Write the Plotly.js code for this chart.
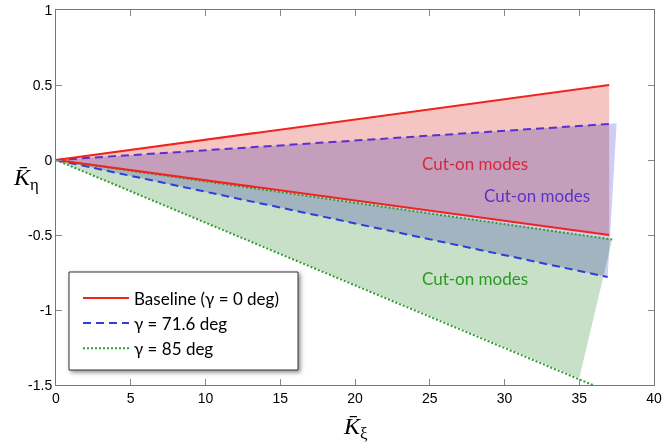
<!DOCTYPE html>
<html>
<head>
<meta charset="utf-8">
<script src="https://cdn.plot.ly/plotly-3.0.1.min.js"></script>
<style>
  html, body { margin: 0; padding: 0; background: #fff; }
  #chart { width: 665px; height: 448px; }
  .js-fill { mix-blend-mode: multiply; }
  .shapelayer path { filter: drop-shadow(2px 2px 2px rgba(0,0,0,0.45)); }
</style>
</head>
<body>
<div id="chart"></div>
<script>
// ---- data ----
const seriesNames = ['Baseline (γ = 0 deg)', 'γ = 71.6 deg', 'γ = 85 deg'];

// cut-on regions (polygons)
const baseFillX = [0, 37.0, 37.0, 0];
const baseFillY = [0, 0.50, -0.50, 0];
const g716FillX = [0, 37.0, 37.5, 36.9, 0];
const g716FillY = [0, 0.24, 0.245, -0.78, 0];
const g85FillX  = [0, 37.2, 35.0, 0];
const g85FillY  = [0, -0.53, -1.455, 0];

// boundary lines
const baseUpperX = [0, 37.0], baseUpperY = [0, 0.50];
const baseLowerX = [0, 37.0], baseLowerY = [0, -0.50];
const g716UpperX = [0, 37.0], g716UpperY = [0, 0.24];
const g716LowerX = [0, 36.9], g716LowerY = [0, -0.78];
const g85UpperX  = [0, 37.2], g85UpperY  = [0, -0.53];
const g85LowerX  = [0, 35.9], g85LowerY  = [0, -1.50];

// labels
const labelText = 'Cut-on modes';
const labelX = [28.0, 32.2, 28.0];
const labelY = [-0.02, -0.235, -0.79];

const xTicks = [0, 5, 10, 15, 20, 25, 30, 35, 40];
const yTicks = [1, 0.5, 0, -0.5, -1, -1.5];
const yTickText = ['1', '0.5', '0', '-0.5', '-1', '-1.5'];

// ---- styling ----
const red = '#f2221c', blue = '#2d3fd6', blueUp = '#5a30d2', green = '#2f9e2f';
const labelColors = ['#d8263c', '#5b32cc', '#2a9a22'];
const dashPat = '8px,5px', dotPat = '2px,2px';

const traces = [
  {x: baseFillX, y: baseFillY, mode: 'none', fill: 'toself', fillcolor: '#f5c5c3', showlegend: false, hoverinfo: 'skip'},
  {x: g716FillX, y: g716FillY, mode: 'none', fill: 'toself', fillcolor: '#cdcdf5', showlegend: false, hoverinfo: 'skip'},
  {x: g85FillX,  y: g85FillY,  mode: 'none', fill: 'toself', fillcolor: '#c8e0c8', showlegend: false, hoverinfo: 'skip'},

  {x: g85UpperX, y: g85UpperY, mode: 'lines', line: {color: green, width: 2, dash: dotPat}, showlegend: false},
  {x: g85LowerX, y: g85LowerY, mode: 'lines', line: {color: green, width: 2, dash: dotPat}, name: seriesNames[2], legendrank: 3},
  {x: g716UpperX, y: g716UpperY, mode: 'lines', line: {color: blueUp, width: 2, dash: dashPat}, showlegend: false},
  {x: g716LowerX, y: g716LowerY, mode: 'lines', line: {color: blue, width: 2, dash: dashPat}, name: seriesNames[1], legendrank: 2},
  {x: baseUpperX, y: baseUpperY, mode: 'lines', line: {color: red, width: 2}, showlegend: false},
  {x: baseLowerX, y: baseLowerY, mode: 'lines', line: {color: red, width: 2}, name: seriesNames[0], legendrank: 1}
];

const annotations = labelX.map((x, i) => ({
  x: x, y: labelY[i], xref: 'x', yref: 'y', text: labelText, showarrow: false,
  font: {family: 'Lato, "Open Sans", sans-serif', size: 17, color: labelColors[i]}
}));
annotations.push({
  xref: 'paper', yref: 'paper', x: 0.5, y: -0.07, xanchor: 'center', yanchor: 'top',
  text: '<i>K\u0304</i><sub>ξ</sub>', showarrow: false,
  font: {family: '"Liberation Serif", "DejaVu Serif", serif', size: 24, color: '#000'}
});
annotations.push({
  xref: 'paper', yref: 'paper', x: -0.075, y: 0.55, xanchor: 'left', yanchor: 'middle',
  text: '<i>K\u0304</i><sub>η</sub>', showarrow: false,
  font: {family: '"Liberation Serif", "DejaVu Serif", serif', size: 24, color: '#000'}
});

const axisCommon = {
  showgrid: false, zeroline: false, showline: true, linecolor: '#777', linewidth: 1,
  mirror: 'allticks', ticks: 'inside', ticklen: 6, tickcolor: '#888', tickwidth: 1,
  tickfont: {family: '"Liberation Sans", Arial, sans-serif', size: 14, color: '#000'}
};

const layout = {
  width: 665, height: 448,
  margin: {l: 56, r: 11, t: 10, b: 63},
  paper_bgcolor: '#fff', plot_bgcolor: '#fff',
  xaxis: Object.assign({}, axisCommon, {range: [0, 40], tickvals: xTicks, ticktext: xTicks.map(String)}),
  yaxis: Object.assign({}, axisCommon, {range: [-1.5, 1], tickvals: yTicks, ticktext: yTickText}),
  showlegend: true,
  legend: {
    x: 22 / 598, y: 0.279, xanchor: 'left', yanchor: 'top',
    bgcolor: 'rgba(0,0,0,0)', borderwidth: 0, itemwidth: 46,
    font: {family: 'Lato, "Open Sans", sans-serif', size: 17, color: '#000'},
    traceorder: 'normal', tracegroupgap: 0
  },
  shapes: [{
    type: 'rect', xref: 'paper', yref: 'paper',
    x0: 13 / 598, x1: 242 / 598, y0: 15 / 375, y1: 113 / 375,
    line: {color: '#333', width: 1}, fillcolor: '#fff', layer: 'above'
  }],
  annotations: annotations
};

Plotly.newPlot('chart', traces, layout, {displayModeBar: false, staticPlot: true});
</script>
</body>
</html>
